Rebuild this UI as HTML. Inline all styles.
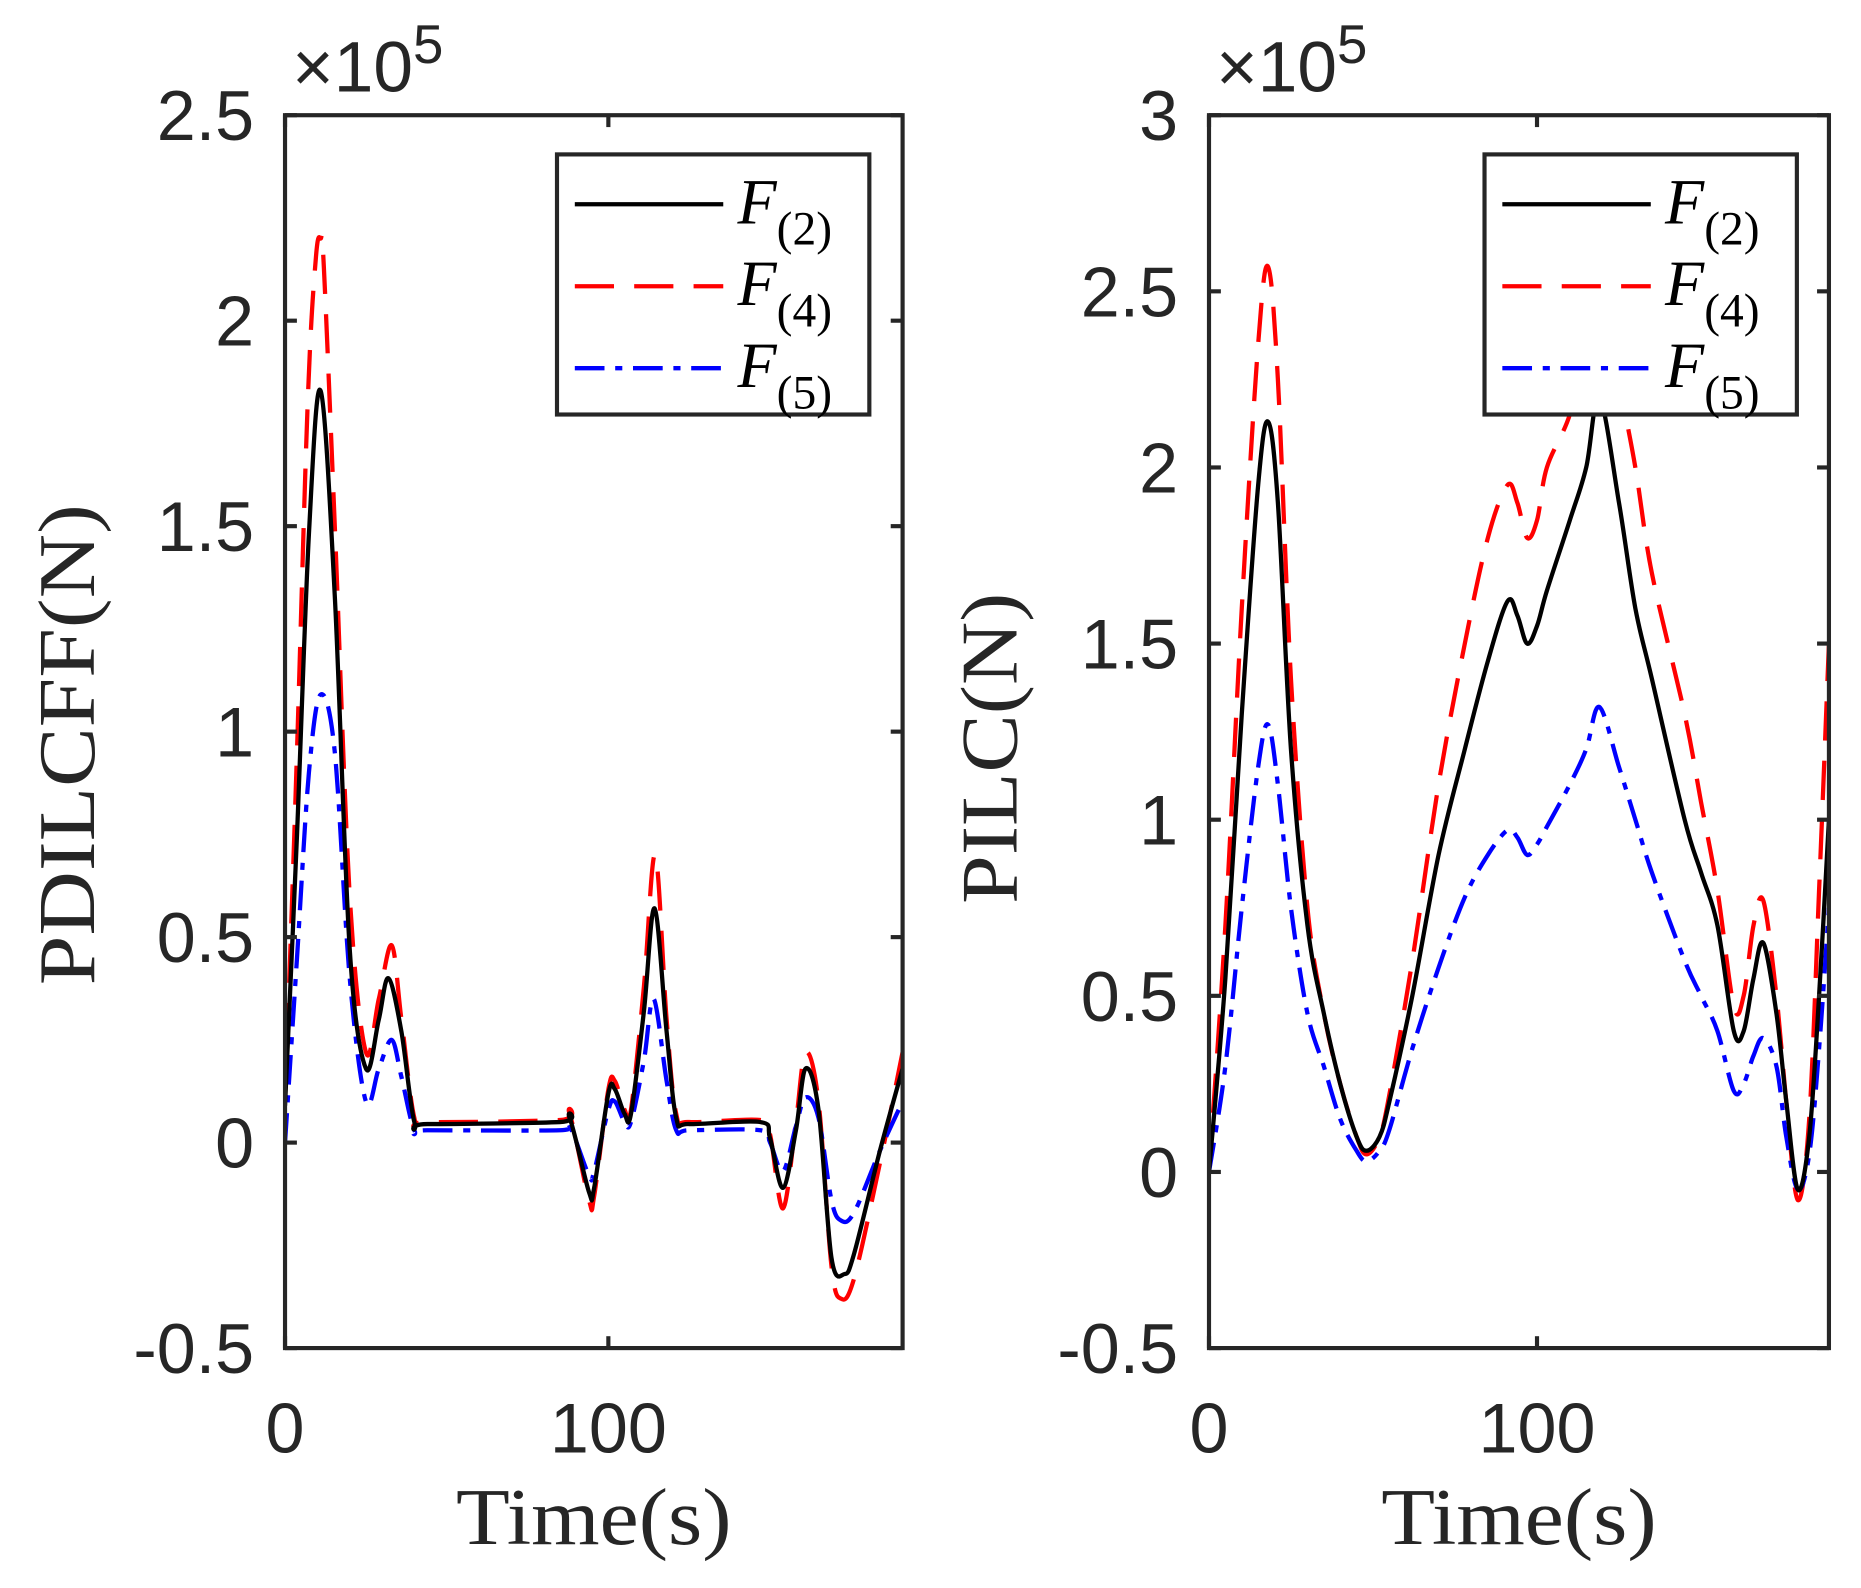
<!DOCTYPE html>
<html><head><meta charset="utf-8"><style>
html,body{margin:0;padding:0;background:#fff;}
svg{display:block;}
</style></head><body>
<svg id="fig" width="1861" height="1588" viewBox="0 0 1567 1337" preserveAspectRatio="none" xmlns="http://www.w3.org/2000/svg"></svg>
<script>
// ---- Left chart data (time s, value x1e5) ----
const leftT2 = [0,3.7,7.4,11,15.4,20,25,29,32,36,40,44,85,88,94,95.6,100,102,105,107,111,114.3,118,121,125,147,150,154,158,161,165,169,173,176,184,191];
const leftF2 = [0.09,0.75,1.48,1.83,1.33,0.47,0.18,0.3,0.4,0.27,0.05,0.045,0.05,0.06,-0.12,-0.11,0.12,0.13,0.07,0.07,0.32,0.57,0.27,0.06,0.045,0.05,0.01,-0.11,0.03,0.18,0.08,-0.28,-0.32,-0.27,-0.02,0.18];
const leftT4 = [0,3.5,7,9.5,11,12,15.4,20,25,29,33,36,40,44,85,88,94,95.6,100,102,105,107,111,114.5,118,121,125,147,150,154,158,161,165,169,172,176,184,191];
const leftF4 = [0.1,0.9,1.8,2.15,2.2,2.13,1.5,0.6,0.22,0.35,0.48,0.3,0.06,0.05,0.055,0.07,-0.14,-0.13,0.13,0.15,0.08,0.08,0.38,0.7,0.3,0.07,0.05,0.055,0.02,-0.16,0.05,0.22,0.1,-0.3,-0.38,-0.33,-0.05,0.22];
const leftT5 = [0,3.7,7.4,11,15.4,20,25,29,33,36,40,44,85,88,94,95.6,100,102,105,107,111,114,118,121,125,147,150,154,158,161,165,169,172,176,184,191];
const leftF5 = [0.0,0.45,0.9,1.09,0.95,0.4,0.1,0.18,0.25,0.16,0.03,0.03,0.03,0.04,-0.08,-0.07,0.08,0.1,0.05,0.05,0.2,0.35,0.15,0.03,0.03,0.03,0.0,-0.07,0.04,0.11,0.06,-0.14,-0.19,-0.17,-0.02,0.1];
// ---- Right chart data ----
const rightT = [0,5,10,15,18,21,25,30,35,40,45,48,52,55,62,70,78,85,91,94,97,100,103,110,115,119,125,130,135,145,150,155,160,163,166,169,173,176,179.5,183,186,189];
const rightF2 = [0,0.55,1.3,1.95,2.13,1.9,1.2,0.7,0.45,0.25,0.1,0.06,0.1,0.2,0.5,0.9,1.2,1.45,1.62,1.58,1.5,1.55,1.65,1.85,2.0,2.2,1.9,1.6,1.4,1.0,0.85,0.7,0.4,0.4,0.55,0.65,0.45,0.2,-0.05,0.1,0.5,1.0];
const rightF4 = [0,0.7,1.6,2.35,2.57,2.25,1.4,0.75,0.45,0.25,0.1,0.05,0.1,0.22,0.6,1.1,1.5,1.8,1.95,1.9,1.8,1.85,2.0,2.15,2.35,2.6,2.25,2.0,1.7,1.3,1.05,0.8,0.47,0.5,0.7,0.77,0.5,0.2,-0.08,0.15,0.8,1.5];
const rightF5 = [0,0.3,0.75,1.15,1.27,1.1,0.75,0.45,0.3,0.15,0.06,0.03,0.06,0.12,0.35,0.58,0.78,0.9,0.97,0.95,0.9,0.93,0.98,1.1,1.2,1.32,1.15,1.0,0.85,0.6,0.5,0.4,0.23,0.25,0.33,0.38,0.3,0.1,-0.05,0.05,0.35,0.75];
const leftYTicks = [-0.5,0,0.5,1,1.5,2,2.5];
const rightYTicks = [-0.5,0,0.5,1,1.5,2,2.5,3];
const xTicks = [0,100];

const NS="http://www.w3.org/2000/svg";
const svg=document.getElementById('fig');
function mk(tag,attrs,parent){const e=document.createElementNS(NS,tag);for(const k in attrs)e.setAttribute(k,attrs[k]);(parent||svg).appendChild(e);return e;}
function smoothPath(px,py){
  let d='M'+px[0].toFixed(1)+','+py[0].toFixed(1);
  for(let i=0;i<px.length-1;i++){
    const i0=Math.max(0,i-1),i3=Math.min(px.length-1,i+2);
    const c1x=px[i]+(px[i+1]-px[i0])/6,c1y=py[i]+(py[i+1]-py[i0])/6;
    const c2x=px[i+1]-(px[i3]-px[i])/6,c2y=py[i+1]-(py[i3]-py[i])/6;
    d+=' C'+c1x.toFixed(1)+','+c1y.toFixed(1)+' '+c2x.toFixed(1)+','+c2y.toFixed(1)+' '+px[i+1].toFixed(1)+','+py[i+1].toFixed(1);
  }
  return d;
}

function drawPanel(cfg){
  const g=mk('g',{});
  
  
  const {x0,x1,y0,y1,xmax,ymin,ymax}=cfg;
  const sx=t=>x0+(t/xmax)*(x1-x0);
  const sy=v=>y1-(v-ymin)/(ymax-ymin)*(y1-y0);
  const clipId=cfg.name+'-clip';
  const cp=mk('clipPath',{id:clipId},g);mk('rect',{x:x0,y:y0,width:x1-x0,height:y1-y0},cp);
  const series=[
    {t:cfg.t2,v:cfg.f2,c:'#000',d:'',n:'line-f2'},
    {t:cfg.t4,v:cfg.f4,c:'#ff0000',d:'33,17',n:'line-f4'},
    {t:cfg.t5,v:cfg.f5,c:'#0000ff',d:'25,9,6,9',n:'line-f5'}];
  [1,2,0].forEach(i=>{const s=series[i];
    const pl=mk('path',{d:smoothPath(s.t.map(sx),s.v.map(sy)),fill:'none',stroke:s.c,'stroke-width':3.6,'stroke-dasharray':s.d,'stroke-linejoin':'round','clip-path':'url(#'+clipId+')'},g);
    
    
  });
  const box=mk('rect',{x:x0,y:y0,width:x1-x0,height:y1-y0,fill:'none',stroke:'#262626','stroke-width':3.5},g);
  
  
  cfg.yticks.forEach(v=>{const y=sy(v);
    mk('line',{x1:x0,x2:x0+10,y1:y,y2:y,stroke:'#262626','stroke-width':3.5},g);
    mk('line',{x1:x1,x2:x1-10,y1:y,y2:y,stroke:'#262626','stroke-width':3.5},g);
    const tx=mk('text',{x:x0-26,y:y+21,'text-anchor':'end','font-size':59,fill:'#262626','font-family':'Liberation Sans, sans-serif'},g);
    tx.textContent=String(v);
    
    
  });
  xTicks.forEach(v=>{const x=sx(v);
    mk('line',{x1:x,x2:x,y1:y1,y2:y1-10,stroke:'#262626','stroke-width':3.5},g);
    mk('line',{x1:x,x2:x,y1:y0,y2:y0+10,stroke:'#262626','stroke-width':3.5},g);
    const tx=mk('text',{x:x,y:y1+88,'text-anchor':'middle','font-size':59,fill:'#262626','font-family':'Liberation Sans, sans-serif'},g);
    tx.textContent=String(v);
    
    
  });
  const ex=mk('text',{x:x0+6,y:y0-20,'font-size':60,fill:'#262626','font-family':'Liberation Sans, sans-serif'},g);
  ex.innerHTML='×10<tspan dy="-24" font-size="46">5</tspan>';
  
  
  const xl=mk('text',{x:(x0+x1)/2,y:1300,'text-anchor':'middle','font-size':68,textLength:232,lengthAdjust:'spacingAndGlyphs',fill:'#262626','font-family':'Liberation Serif, serif'},g);
  xl.textContent='Time(s)';
  
  
  const yl=mk('text',{x:0,y:0,'text-anchor':'middle','font-size':68,textLength:cfg.ylen,lengthAdjust:'spacingAndGlyphs',fill:'#262626','font-family':'Liberation Serif, serif',transform:'translate('+cfg.ylx+','+cfg.ylc+') rotate(-90)'},g);
  yl.textContent=cfg.ylabel;
  
  
  const lx=cfg.legX, ly=130;
  const lg=mk('g',{},g);
  
  
  mk('rect',{x:lx,y:ly,width:263,height:219,fill:'#fff',stroke:'#262626','stroke-width':3.5},lg);
  const labs=['2','4','5'];
  [0,1,2].forEach(i=>{const yy=ly+42+i*69;const s=series[i];
    const ln=mk('line',{x1:lx+15,x2:lx+140,y1:yy,y2:yy,stroke:s.c,'stroke-width':3.6,'stroke-dasharray':s.d},lg);
    
    
    const t=mk('text',{x:lx+152,y:yy+16,'font-size':54,fill:'#000','font-family':'Liberation Serif, serif','font-style':'italic'},lg);
    t.innerHTML='F<tspan dy="18" font-size="40" font-style="normal">(' + labs[i] + ')</tspan>';
    
    
  });
}
drawPanel({name:'left-chart',x0:240,x1:760,y0:97,y1:1135,xmax:191,ymin:-0.5,ymax:2.5,yticks:leftYTicks,
  t2:leftT2,f2:leftF2,t4:leftT4,f4:leftF4,t5:leftT5,f5:leftF5,ylabel:'PDILCFF(N)',ylx:79,ylc:627,ylen:405,legX:469});
drawPanel({name:'right-chart',x0:1018,x1:1540,y0:97,y1:1135,xmax:189,ymin:-0.5,ymax:3,yticks:rightYTicks,
  t2:rightT,f2:rightF2,t4:rightT,f4:rightF4,t5:rightT,f5:rightF5,ylabel:'PILC(N)',ylx:856,ylc:630,ylen:262,legX:1250});
</script>
</body></html>
